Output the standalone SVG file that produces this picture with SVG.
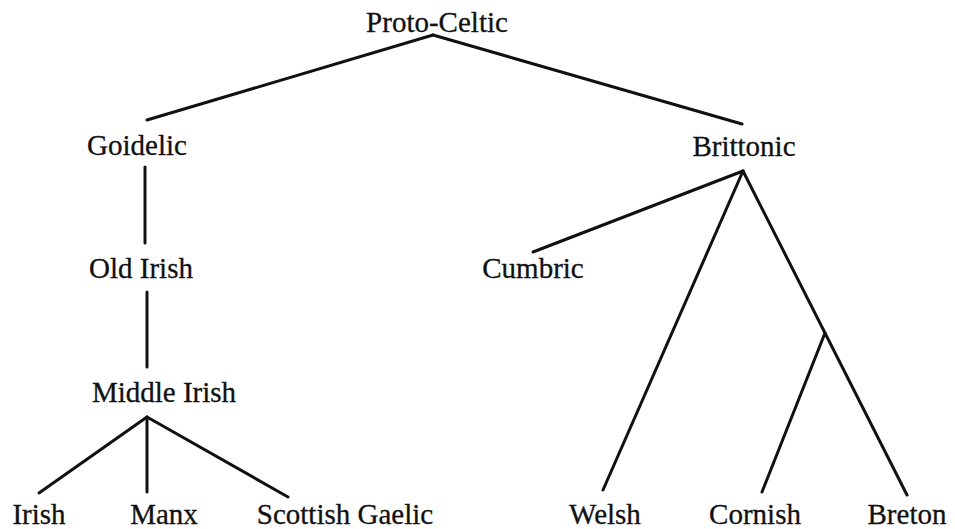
<svg xmlns="http://www.w3.org/2000/svg" width="955" height="529" viewBox="0 0 955 529">
<style>
text{font-family:'Liberation Serif',serif;font-size:29px;fill:#111;stroke:#111;stroke-width:0.3;text-anchor:middle}
.c line{stroke:#111;stroke-width:3;stroke-linecap:round}
</style>
<rect width="955" height="529" fill="#fff"/>
<g class="c" id="connectors">
<line x1="433" y1="35" x2="147" y2="120"/>
<line x1="433" y1="35" x2="742" y2="124"/>
<line x1="145" y1="167" x2="145" y2="243"/>
<line x1="147" y1="292" x2="147" y2="367"/>
<line x1="147" y1="417" x2="39" y2="493"/>
<line x1="147" y1="417" x2="147" y2="492"/>
<line x1="147" y1="417" x2="288" y2="497"/>
<line x1="743" y1="171" x2="533" y2="252"/>
<line x1="743" y1="171" x2="603" y2="490"/>
<line x1="743" y1="171" x2="907" y2="495"/>
<line x1="825" y1="333" x2="762" y2="492"/>
</g>
<g id="proto-celtic"><text x="437" y="32">Proto-Celtic</text></g>
<g id="goidelic"><text x="137" y="155">Goidelic</text></g>
<g id="brittonic"><text x="744" y="156">Brittonic</text></g>
<g id="old-irish"><text x="141" y="278">Old Irish</text></g>
<g id="cumbric"><text x="533" y="278">Cumbric</text></g>
<g id="middle-irish"><text x="164" y="402">Middle Irish</text></g>
<g id="irish"><text x="39" y="524">Irish</text></g>
<g id="manx"><text x="164" y="524">Manx</text></g>
<g id="scottish-gaelic"><text x="345" y="524">Scottish Gaelic</text></g>
<g id="welsh"><text x="605" y="524">Welsh</text></g>
<g id="cornish"><text x="755" y="524">Cornish</text></g>
<g id="breton"><text x="907" y="524">Breton</text></g>
</svg>
